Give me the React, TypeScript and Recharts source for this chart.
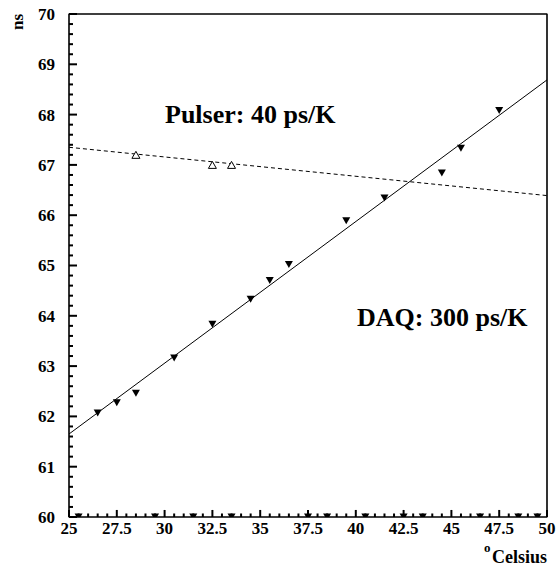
import React from "react";
import {
  ComposedChart,
  Line,
  Scatter,
  XAxis,
  YAxis,
  ReferenceArea,
  ReferenceLine,
  Customized,
} from "recharts";

const FONT = "'Liberation Serif', 'Times New Roman', serif";

// DAQ measurements (filled triangles)
const daqTemp = [26.5, 27.5, 28.5, 30.5, 32.5, 34.5, 35.5, 36.5, 39.5, 41.5, 44.5, 45.5, 47.5];
const daqNs = [62.07, 62.27, 62.46, 63.16, 63.83, 64.33, 64.7, 65.02, 65.89, 66.34, 66.84, 67.33, 68.08];

// points below the range, drawn on the lower edge
const underTemp = [25.5, 29.5, 31.5, 33.5, 37.5, 38.5, 40.5, 42.5, 43.5, 46.5, 48.5, 49.5];

// pulser measurements (open triangles)
const pulserTemp = [28.5, 32.5, 33.5];
const pulserNs = [67.2, 67.0, 67.0];

// fitted lines, value at 25 and 50 degrees
const fitTemp = [25, 50];
const daqFitNs = [61.65, 68.69];
const pulserFitNs = [67.35, 66.39];

const xMajor = [25, 27.5, 30, 32.5, 35, 37.5, 40, 42.5, 45, 47.5, 50];
const yMajor = [60, 61, 62, 63, 64, 65, 66, 67, 68, 69, 70];

const xTicks: number[] = [];
for (let i = 0; i <= 50; i++) xTicks.push(25 + i * 0.5);
const yTicks: number[] = [];
for (let i = 0; i <= 50; i++) yTicks.push(Math.round((60 + i * 0.2) * 10) / 10);

const daqData = daqTemp.map((t, i) => ({ t, ns: daqNs[i] }));
const underData = underTemp.map((t) => ({ t, ns: 60 }));
const pulserData = pulserTemp.map((t, i) => ({ t, ns: pulserNs[i] }));
const daqFit = fitTemp.map((t, i) => ({ t, ns: daqFitNs[i] }));
const pulserFit = fitTemp.map((t, i) => ({ t, ns: pulserFitNs[i] }));

const DownTri = (props: any) => {
  const { cx, cy } = props;
  return <path d={`M${cx - 4},${cy - 3.5}L${cx + 4},${cy - 3.5}L${cx},${cy + 3.5}Z`} fill="#000" />;
};

// only the part above the frame is visible
const HalfDownTri = (props: any) => {
  const { cx, cy } = props;
  return <path d={`M${cx - 4},${cy - 3.5}L${cx + 4},${cy - 3.5}L${cx + 2},${cy}L${cx - 2},${cy}Z`} fill="#000" />;
};

const OpenTri = (props: any) => {
  const { cx, cy } = props;
  return (
    <path
      d={`M${cx - 4},${cy + 3.5}L${cx + 4},${cy + 3.5}L${cx},${cy - 3.5}Z`}
      fill="#fff"
      stroke="#000"
      strokeWidth={1}
    />
  );
};

const XTick = (props: any) => {
  const x = Number(props.x);
  const y = Number(props.y);
  const v = props.payload.value;
  if (!xMajor.includes(v)) return <g />;
  return (
    <text x={x} y={y + 17} textAnchor="middle" fontFamily={FONT} fontWeight="bold" fontSize={17} fill="#000">
      {v}
    </text>
  );
};

const YTick = (props: any) => {
  const x = Number(props.x);
  const y = Number(props.y);
  const v = props.payload.value;
  if (!yMajor.includes(v)) return <g />;
  return (
    <text x={x - 14} y={y} dy="0.35em" textAnchor="end" fontFamily={FONT} fontWeight="bold" fontSize={17} fill="#000">
      {v}
    </text>
  );
};

const Annotations = () => (
  <g fontFamily={FONT} fontWeight="bold" fill="#000">
    <text x={165} y={123} fontSize={26}>Pulser: 40 ps/K</text>
    <text x={357} y={326} fontSize={26}>DAQ: 300 ps/K</text>
    <text x={23} y={14} fontSize={17} textAnchor="end" transform="rotate(-90 23 14)">ns</text>
    <text x={484} y={552} fontSize={13}>o</text>
    <text x={547} y={563} fontSize={18} textAnchor="end">Celsius</text>
  </g>
);

export default function App() {
  return (
    <div style={{ position: "absolute", left: 0, top: 0, width: 558, height: 567, background: "#fff" }}>
      <ComposedChart width={558} height={567} margin={{ top: 13, right: 10, bottom: 49, left: 68 }}>
        <XAxis
          type="number"
          dataKey="t"
          domain={[25, 50]}
          ticks={xTicks}
          interval={0}
          height={1}
          tickSize={0}
          tickMargin={0}
          tickLine={false}
          tick={<XTick />}
          axisLine={{ stroke: "#000" }}
        />
        <XAxis
          xAxisId="top"
          orientation="top"
          type="number"
          domain={[25, 50]}
          height={1}
          tick={false}
          tickLine={false}
          axisLine={{ stroke: "#000" }}
        />
        <YAxis
          type="number"
          dataKey="ns"
          domain={[60, 70]}
          ticks={yTicks}
          interval={0}
          width={1}
          tickSize={0}
          tickMargin={0}
          tickLine={false}
          tick={<YTick />}
          axisLine={{ stroke: "#000" }}
        />
        <YAxis
          yAxisId="right"
          orientation="right"
          type="number"
          domain={[60, 70]}
          width={1}
          tick={false}
          tickLine={false}
          axisLine={{ stroke: "#000" }}
        />
        <ReferenceArea x1={25} x2={50} y1={60} y2={70} ifOverflow="visible" fill="none" fillOpacity={0} stroke="#000" strokeWidth={1.2} />
        {/* inward tick marks: long at labelled values, short in between */}
        {yTicks.map((v) => (
          <ReferenceLine
            key={`yt${v}`}
            segment={[{ x: 25, y: v }, { x: 25 + (yMajor.includes(v) ? 0.42 : 0.21), y: v }]}
            stroke="#000"
            strokeWidth={2}
            ifOverflow="visible"
          />
        ))}
        {xTicks.map((v) => (
          <ReferenceLine
            key={`xt${v}`}
            segment={[{ x: v, y: 60 }, { x: v, y: 60 + (xMajor.includes(v) ? 0.14 : 0.07) }]}
            stroke="#000"
            strokeWidth={2}
            ifOverflow="visible"
          />
        ))}
        <Line data={pulserFit} dataKey="ns" type="linear" stroke="#000" strokeWidth={1} strokeDasharray="4 3" dot={false} isAnimationActive={false} />
        <Line data={daqFit} dataKey="ns" type="linear" stroke="#000" strokeWidth={1} dot={false} isAnimationActive={false} />
        <Scatter data={daqData} dataKey="ns" shape={<DownTri />} isAnimationActive={false} />
        <Scatter data={underData} dataKey="ns" shape={<HalfDownTri />} isAnimationActive={false} />
        <Scatter data={pulserData} dataKey="ns" shape={<OpenTri />} isAnimationActive={false} />
        <Customized component={<Annotations />} />
      </ComposedChart>
    </div>
  );
}
